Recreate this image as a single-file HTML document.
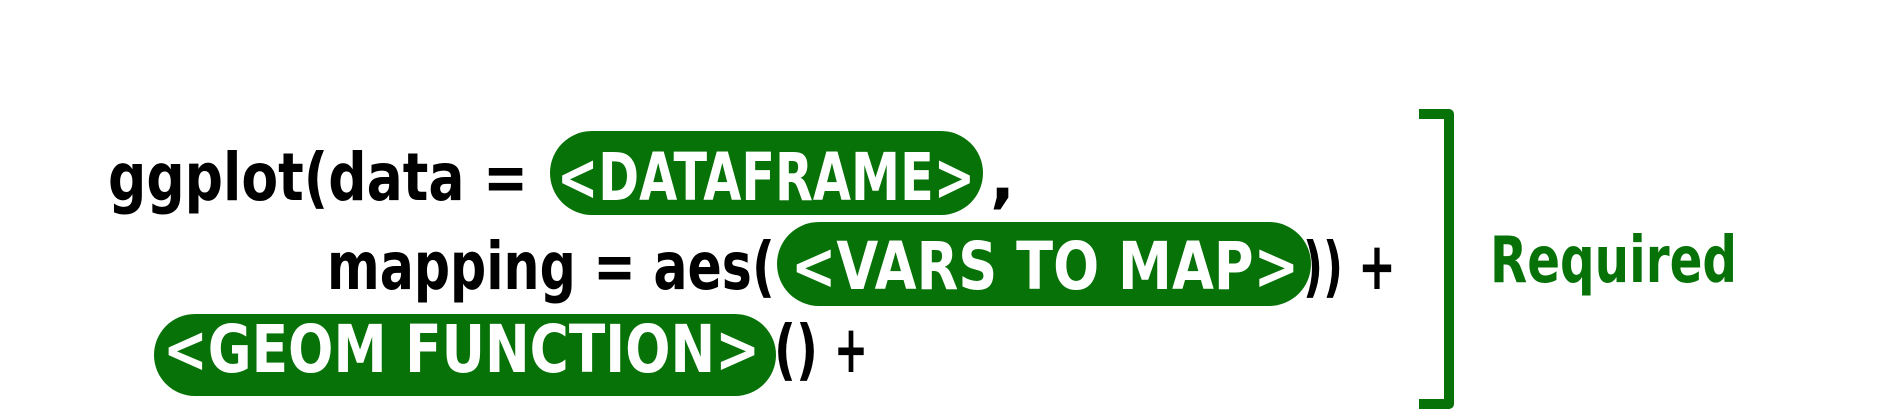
<!DOCTYPE html>
<html><head><meta charset="utf-8"><style>
html,body{margin:0;padding:0;background:#fff;width:1886px;height:414px;overflow:hidden}
svg text{font-family:"DejaVu Sans","Liberation Sans",sans-serif;font-weight:bold}
</style></head><body>
<svg width="1886" height="414" viewBox="0 0 1886 414" xmlns="http://www.w3.org/2000/svg">
<g font-size="66">
<text x="108" y="200" fill="#000" textLength="420" lengthAdjust="spacingAndGlyphs">ggplot(data =</text>
<rect x="550" y="131" width="433" height="84" rx="42" fill="#077207"/>
<text x="557" y="200" fill="#fff" textLength="418" lengthAdjust="spacingAndGlyphs">&lt;DATAFRAME&gt;</text>
<text x="990" y="200" fill="#000">,</text>

<text x="327" y="289" fill="#000" textLength="448" lengthAdjust="spacingAndGlyphs">mapping = aes(</text>
<rect x="777" y="222" width="534" height="84" rx="42" fill="#077207"/>
<text x="791" y="289" fill="#fff" textLength="508" lengthAdjust="spacingAndGlyphs">&lt;VARS TO MAP&gt;</text>
<text x="1303" y="289" fill="#000" textLength="40" lengthAdjust="spacingAndGlyphs">))</text>
<text x="1358" y="289" fill="#000" textLength="38" lengthAdjust="spacingAndGlyphs">+</text>

<rect x="154" y="314" width="622" height="82" rx="41" fill="#077207"/>
<text x="163" y="372" fill="#fff" textLength="597" lengthAdjust="spacingAndGlyphs">&lt;GEOM FUNCTION&gt;</text>
<text x="774" y="372" fill="#000" textLength="44" lengthAdjust="spacingAndGlyphs">()</text>
<text x="834" y="372" fill="#000" textLength="34" lengthAdjust="spacingAndGlyphs">+</text>
</g>
<path d="M1419 114 H1449 V404 H1419" fill="none" stroke="#077207" stroke-width="10" stroke-linejoin="round"/>
<text x="1490" y="282" font-size="64" fill="#077207" textLength="247" lengthAdjust="spacingAndGlyphs">Required</text>
</svg>
</body></html>
